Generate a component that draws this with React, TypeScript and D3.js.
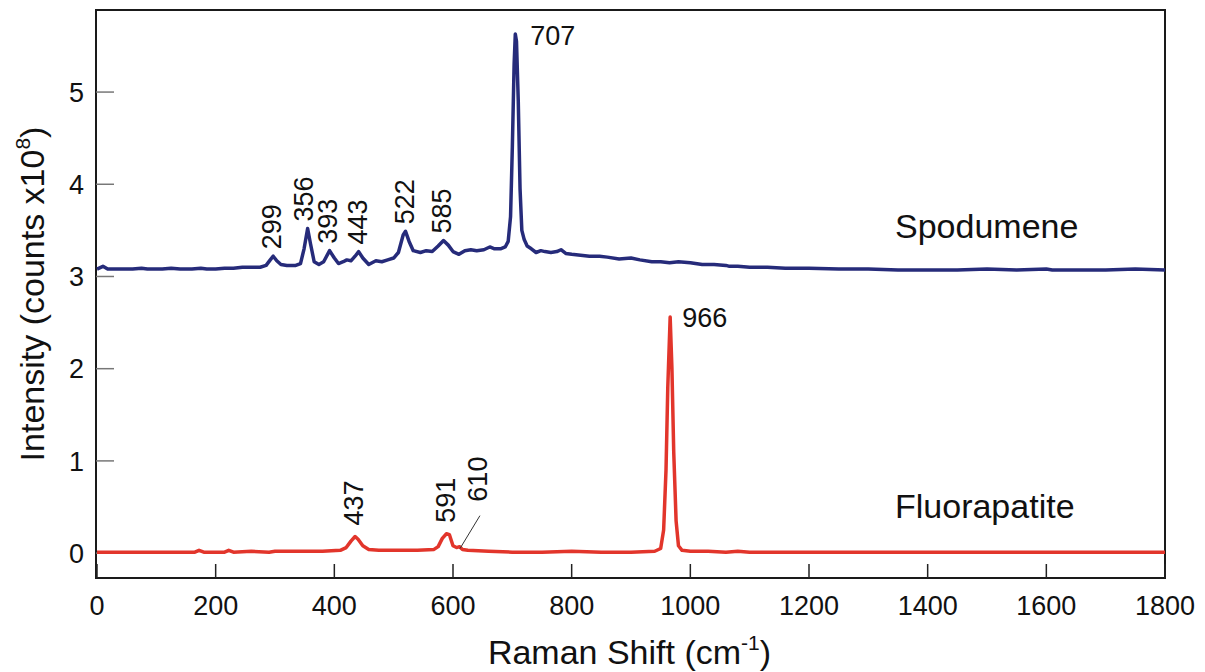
import { useEffect } from "react";
import * as d3 from "d3";

const width = 1205;
const height = 672;

// Spodumene spectrum (Raman shift, intensity x10^8)
const spodShift = [
  0, 10, 18, 40, 60, 75, 85, 110, 125, 140, 160, 175, 185, 200, 215, 230, 245, 260, 275, 285,
  292, 297, 303, 310, 320, 335, 343, 349, 355, 360, 366, 374, 382, 392, 400, 407, 415, 421, 428, 435,
  441, 448, 458, 470, 480, 490, 500, 508, 516, 520, 526, 533, 545, 555, 565, 575, 584, 592, 600, 610,
  620, 630, 640, 652, 662, 670, 680, 688, 693, 697, 700, 703, 705, 707, 710, 713, 716, 720, 725, 732,
  740, 748, 755, 765, 775, 782, 790, 800, 815, 830, 847, 860, 880, 900, 915, 935, 950, 965, 980, 1000,
  1020, 1040, 1060, 1066, 1080, 1100, 1130, 1160, 1200, 1250, 1300, 1350, 1400, 1450, 1500, 1550, 1600, 1610, 1650, 1700,
  1750, 1800,
];
const spodInt = [
  3.08, 3.11, 3.08, 3.08, 3.08, 3.09, 3.08, 3.08, 3.09, 3.08, 3.08, 3.09, 3.08, 3.08, 3.09, 3.09, 3.1, 3.1, 3.1, 3.12,
  3.18, 3.22, 3.17, 3.13, 3.12, 3.12, 3.14, 3.3, 3.52, 3.35, 3.16, 3.13, 3.16, 3.28, 3.2, 3.14, 3.16, 3.18, 3.17, 3.22,
  3.27, 3.2, 3.13, 3.17, 3.16, 3.18, 3.2, 3.26, 3.45, 3.49, 3.38, 3.28, 3.26, 3.28, 3.27, 3.33, 3.39, 3.34, 3.27, 3.24,
  3.28, 3.29, 3.28, 3.29, 3.32, 3.3, 3.3, 3.32, 3.38, 3.65, 4.4, 5.3, 5.63, 5.55, 4.9, 3.95, 3.5, 3.4, 3.33, 3.3,
  3.26, 3.28, 3.27, 3.26, 3.27, 3.29, 3.25, 3.24, 3.23, 3.22, 3.22, 3.21, 3.19, 3.2, 3.18, 3.16, 3.16, 3.15, 3.16, 3.15,
  3.13, 3.13, 3.12, 3.11, 3.11, 3.1, 3.1, 3.09, 3.09, 3.08, 3.08, 3.07, 3.07, 3.07, 3.08, 3.07, 3.08, 3.07, 3.07, 3.07,
  3.08, 3.07,
];

// Fluorapatite spectrum
const fluorShift = [
  0, 100, 165, 172, 180, 215, 222, 230, 260, 290, 300, 330, 380, 410, 420, 428, 435, 440, 448, 458,
  475, 500, 540, 568, 575, 582, 589, 594, 600, 606, 611, 616, 625, 660, 700, 750, 800, 850, 900, 940,
  950, 955, 959, 962, 966, 969, 972, 976, 980, 986, 1000, 1030, 1060, 1080, 1100, 1200, 1400, 1600, 1800,
];
const fluorInt = [
  0.01, 0.01, 0.01, 0.03, 0.01, 0.01, 0.03, 0.01, 0.02, 0.01, 0.02, 0.02, 0.02, 0.03, 0.06, 0.13, 0.18, 0.15, 0.08, 0.04,
  0.03, 0.03, 0.03, 0.04, 0.07, 0.16, 0.21, 0.2, 0.08, 0.06, 0.07, 0.04, 0.03, 0.02, 0.01, 0.01, 0.02, 0.01, 0.01, 0.02,
  0.05, 0.25, 0.9, 1.8, 2.56, 2.0, 1.1, 0.35, 0.08, 0.03, 0.02, 0.02, 0.01, 0.02, 0.01, 0.01, 0.01, 0.01, 0.01,
];

const spodLabels = ["299", "356", "393", "443", "522", "585"];
const fluorLabels = ["437", "591", "610"];
const xTicks = [0, 200, 400, 600, 800, 1000, 1200, 1400, 1600, 1800];
const yTicks = [0, 1, 2, 3, 4, 5];

const navy = "#262b7a";
const red = "#e2352b";
const font = "'Liberation Sans', Arial, Helvetica, sans-serif";

const App = () => {
  useEffect(() => {
    document.body.style.margin = "0";
  }, []);

  const left = 96;
  const right = 1165;
  const top = 10;
  const bottom = 578;

  const x = d3.scaleLinear().domain([0, 1800]).range([left + 1, right]);
  const y = d3.scaleLinear().domain([-0.27, 5.89]).range([bottom, top]);

  const spod = spodShift.map((s, i) => [s, spodInt[i]] as [number, number]);
  const fluor = fluorShift.map((s, i) => [s, fluorInt[i]] as [number, number]);

  const line = d3
    .line<[number, number]>()
    .x((d) => x(d[0]))
    .y((d) => y(d[1]));

  // local maximum of a series near a shift value
  const peakAt = (data: [number, number][], s: number) =>
    d3.max(data.filter((d) => Math.abs(d[0] - s) <= 8), (d) => d[1]) ?? 0;

  const spodMax = d3.max(spod, (d) => d[1])!;
  const spodMaxAt = spod.find((d) => d[1] === spodMax)!;
  const fluorMax = d3.max(fluor, (d) => d[1])!;
  const fluorMaxAt = fluor.find((d) => d[1] === fluorMax)!;

  return (
    <svg width={width} height={height} style={{ display: "block" }} fontFamily={font}>
      <rect width={width} height={height} fill="#fff" />

      {/* frame */}
      <rect
        x={left}
        y={top}
        width={right - left}
        height={bottom - top}
        fill="none"
        stroke="#1a1a1a"
        strokeWidth={2}
      />

      {/* y ticks */}
      {yTicks.map((t) => (
        <g key={"y" + t}>
          <line x1={left} x2={left + 18} y1={y(t)} y2={y(t)} stroke="#777" strokeWidth={1.5} />
          <text x={84} y={y(t)} dy="0.36em" textAnchor="end" fontSize={27} fill="#111">
            {t}
          </text>
        </g>
      ))}

      {/* x ticks */}
      {xTicks.map((t) => (
        <g key={"x" + t}>
          <line x1={x(t)} x2={x(t)} y1={bottom} y2={bottom - 14} stroke="#222" strokeWidth={1.5} />
          <text x={x(t)} y={615} textAnchor="middle" fontSize={27} fill="#111">
            {t}
          </text>
        </g>
      ))}

      {/* spectra */}
      <path d={line(spod) ?? ""} fill="none" stroke={navy} strokeWidth={3.5} strokeLinejoin="round" />
      <path d={line(fluor) ?? ""} fill="none" stroke={red} strokeWidth={3.5} strokeLinejoin="round" />

      {/* spodumene peak labels */}
      {spodLabels.map((l) => {
        const s = +l;
        const px = l === "356" ? x(s) - 4 : x(s) - 2;
        const py = y(peakAt(spod, s)) - 7;
        return (
          <text
            key={"s" + l}
            transform={`translate(${px + 9},${py}) rotate(-90)`}
            fontSize={27}
            fill="#111"
          >
            {l}
          </text>
        );
      })}

      {/* fluorapatite peak labels */}
      {fluorLabels.map((l) => {
        const s = +l;
        const lead = l === "610";
        const px = lead ? x(s) + 19 : x(s) - 2;
        const py = lead ? y(peakAt(fluor, s)) - 45 : y(peakAt(fluor, s)) - 11;
        return (
          <g key={"f" + l}>
            {lead && (
              <line
                x1={x(s) + 1}
                y1={y(peakAt(fluor, s)) + 2}
                x2={x(s) + 21}
                y2={y(peakAt(fluor, s)) - 31}
                stroke="#333"
                strokeWidth={1}
              />
            )}
            <text transform={`translate(${px + 9},${py}) rotate(-90)`} fontSize={27} fill="#111">
              {l}
            </text>
          </g>
        );
      })}

      {/* main peaks */}
      <text x={x(spodMaxAt[0]) + 15} y={y(spodMax) + 11} fontSize={27} fill="#111">
        707
      </text>
      <text x={x(fluorMaxAt[0]) + 12} y={y(fluorMax) + 10} fontSize={27} fill="#111">
        966
      </text>

      {/* series names */}
      <text x={895} y={238} fontSize={34} fill="#111">
        Spodumene
      </text>
      <text x={895} y={518} fontSize={34} fill="#111">
        Fluorapatite
      </text>

      {/* axis titles */}
      <text x={(left + right) / 2 - 1} y={664} textAnchor="middle" fontSize={34} fill="#111">
        Raman Shift (cm
        <tspan fontSize={21} dy={-14}>
          -1
        </tspan>
        <tspan dy={14}>)</tspan>
      </text>
      <text
        transform={`translate(44,${(top + bottom) / 2}) rotate(-90)`}
        textAnchor="middle"
        fontSize={34}
        fill="#111"
      >
        Intensity (counts x10
        <tspan fontSize={21} dy={-14}>
          8
        </tspan>
        <tspan dy={14}>)</tspan>
      </text>
    </svg>
  );
};

export default App;
